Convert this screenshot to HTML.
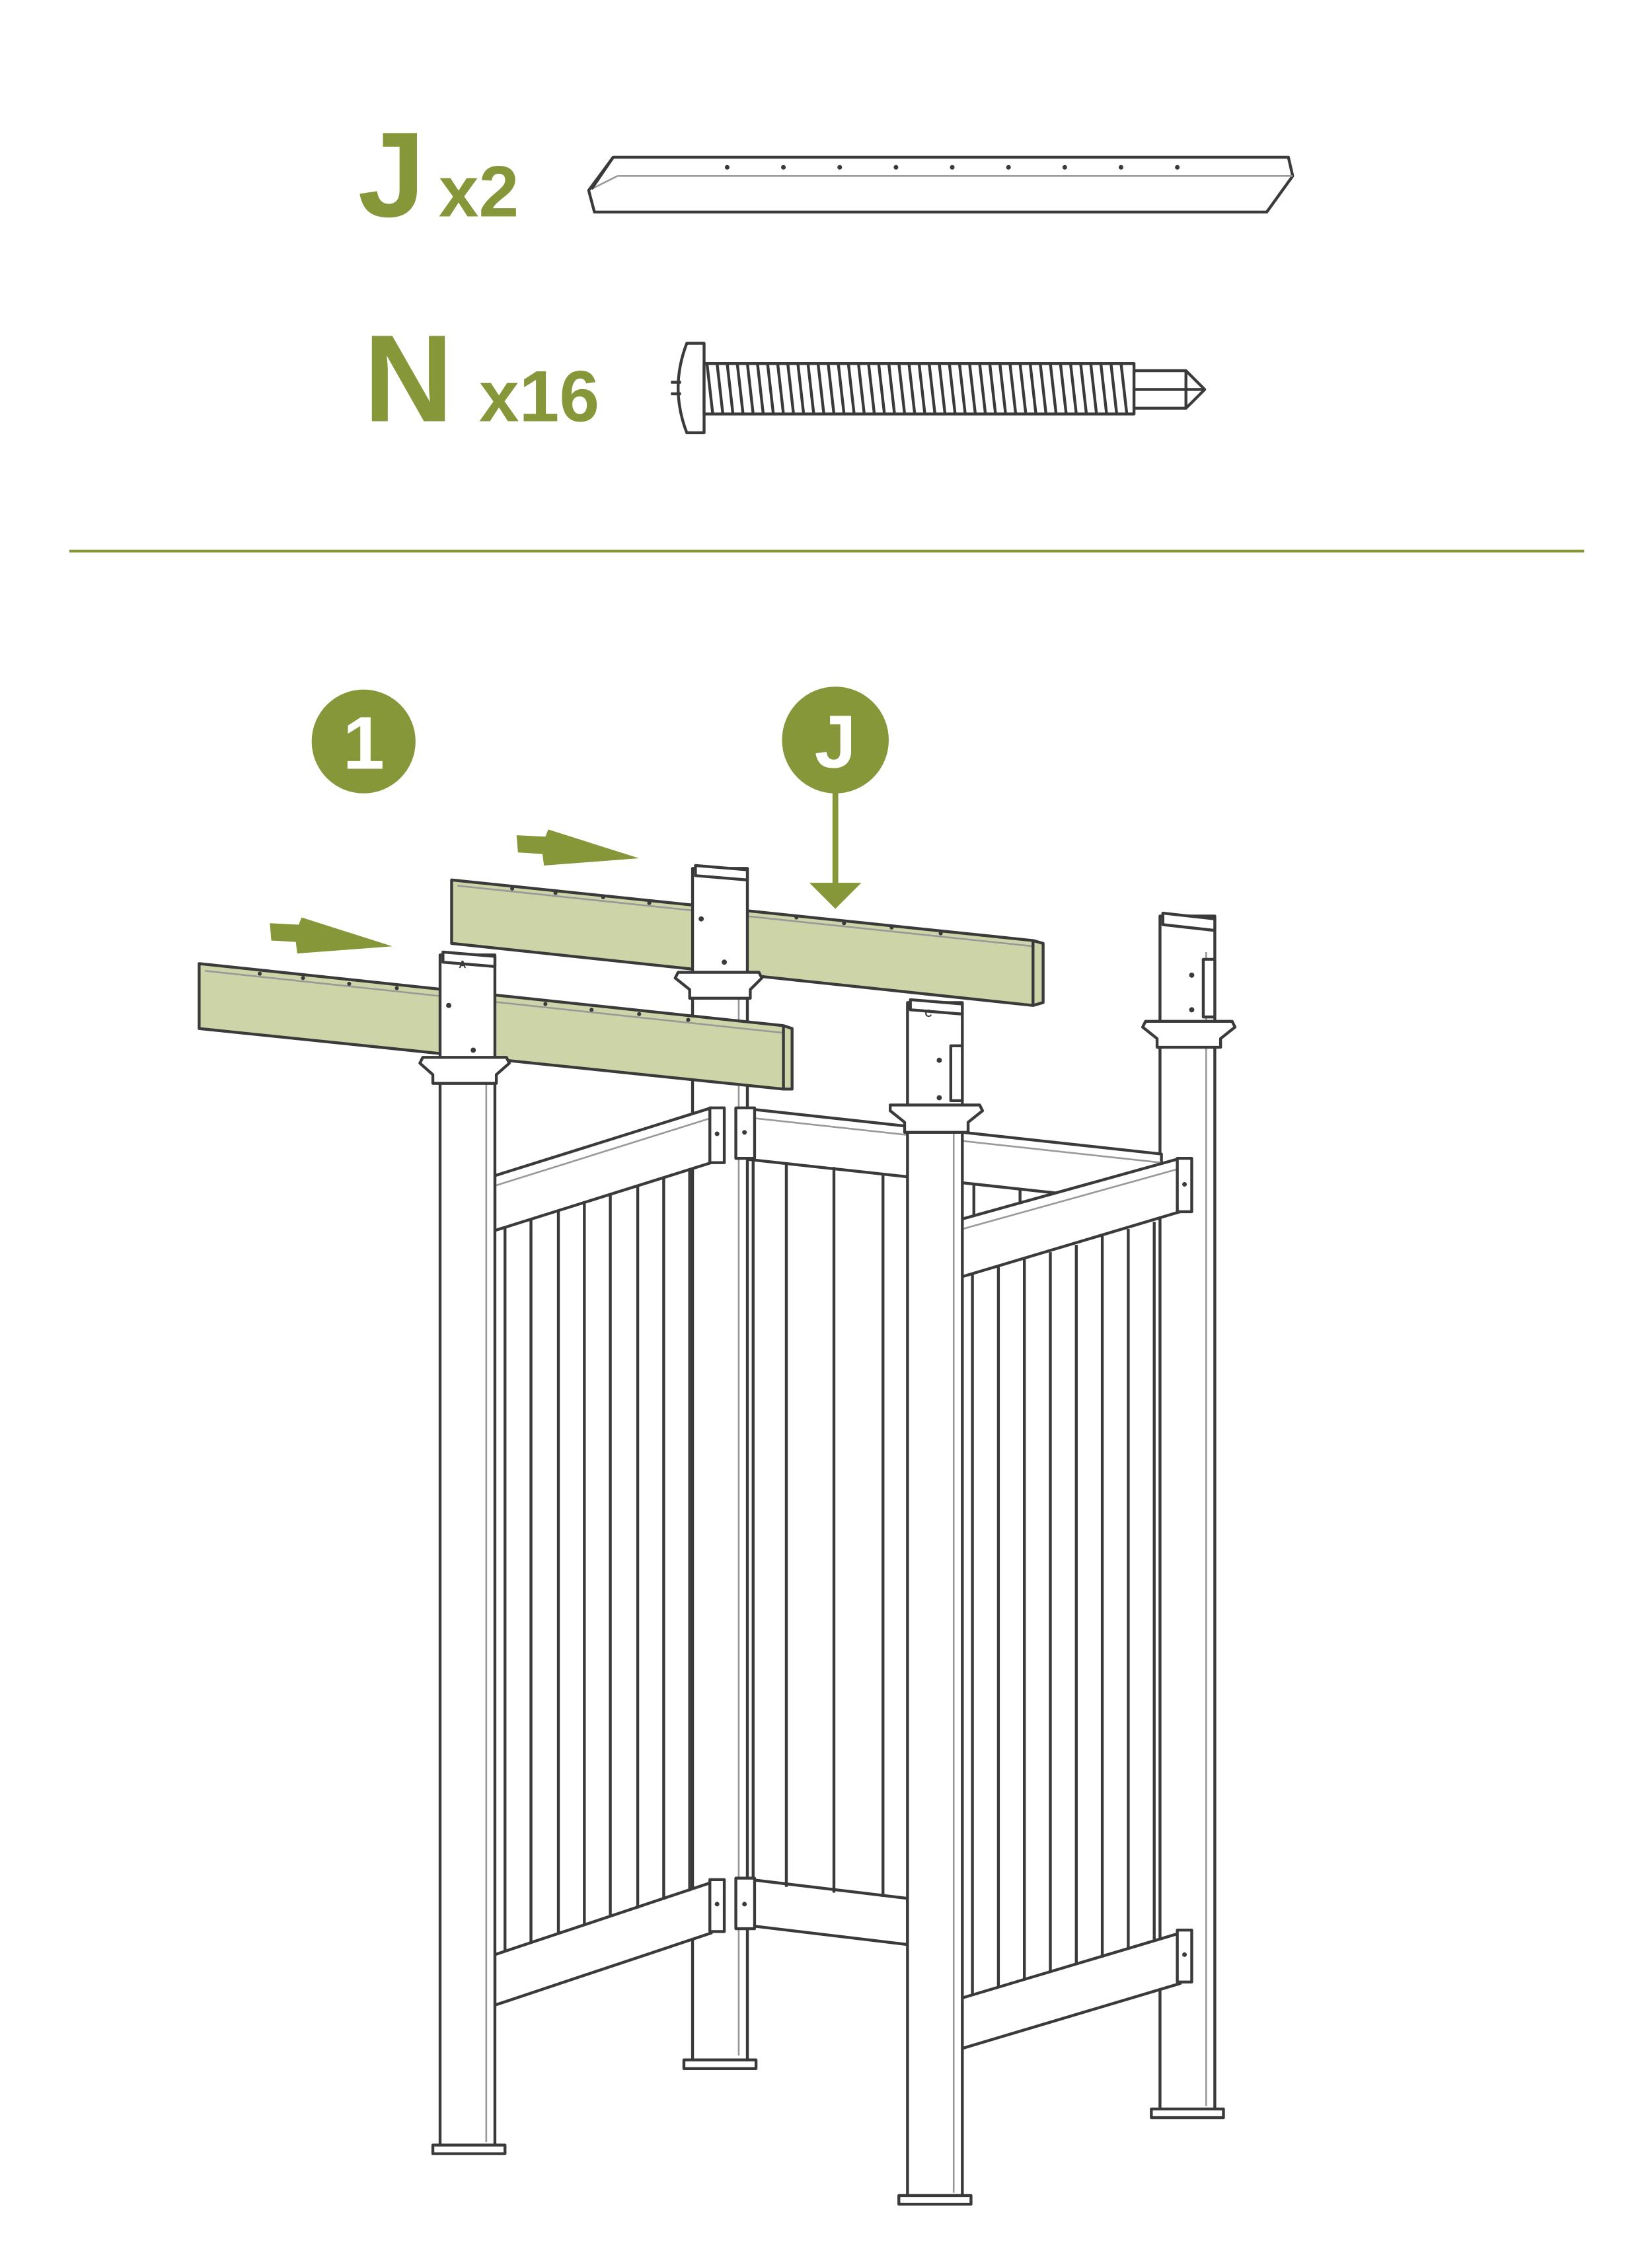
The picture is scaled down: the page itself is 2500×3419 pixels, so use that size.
<!DOCTYPE html>
<html><head><meta charset="utf-8"><style>
html,body{margin:0;padding:0;background:#fff;}
svg{display:block;}
</style></head><body>
<svg width="2500" height="3419" viewBox="0 0 1145 1566" xmlns="http://www.w3.org/2000/svg" font-family="Liberation Sans, sans-serif">
<defs>
<style>
.o{fill:none;stroke:#3a3a3a;stroke-width:2;stroke-linejoin:round}
.w{fill:#fff;stroke:#3a3a3a;stroke-width:2;stroke-linejoin:round}
.g{fill:#cdd5a8;stroke:#3a3a3a;stroke-width:2;stroke-linejoin:round}
.t{fill:none;stroke:#999;stroke-width:1.2}
.s{stroke:#3a3a3a;stroke-width:2}
</style>
</defs>
<!-- Parts list -->
<text x="248" y="150" font-size="84" font-weight="bold" fill="#86973a">J</text>
<text x="304" y="150" font-size="50" font-weight="bold" fill="#86973a">x2</text>
<polygon class="w" points="425,109 893,109 896,122 878,147 412,147 408,132"/>
<line class="t" x1="410" y1="131" x2="428" y2="122"/><line class="t" x1="428" y1="122" x2="896" y2="122"/>
<line class="o" x1="425" y1="109" x2="410" y2="131"/>
<g fill="#3a3a3a"><circle cx="504" cy="116" r="1.6"/><circle cx="543" cy="116" r="1.6"/><circle cx="582" cy="116" r="1.6"/><circle cx="621" cy="116" r="1.6"/><circle cx="660" cy="116" r="1.6"/><circle cx="699" cy="116" r="1.6"/><circle cx="738" cy="116" r="1.6"/><circle cx="777" cy="116" r="1.6"/><circle cx="816" cy="116" r="1.6"/></g>

<text x="252" y="292" font-size="86" font-weight="bold" fill="#86973a">N</text>
<text x="332" y="292" font-size="50" font-weight="bold" fill="#86973a">x16</text>
<path class="w" d="M476,238 h12 v62 h-12 q-12,-31 0,-62z"/>
<line class="o" x1="465" y1="265" x2="472" y2="265"/><line class="o" x1="465" y1="273" x2="472" y2="273"/>
<rect class="w" x="488" y="252" width="298" height="35"/>
<path class="o" d="M490,252 l4,35 M497,252 l4,35 M504,252 l4,35 M511,252 l4,35 M518,252 l4,35 M525,252 l4,35 M532,252 l4,35 M539,252 l4,35 M546,252 l4,35 M553,252 l4,35 M560,252 l4,35 M567,252 l4,35 M574,252 l4,35 M581,252 l4,35 M588,252 l4,35 M595,252 l4,35 M602,252 l4,35 M609,252 l4,35 M616,252 l4,35 M623,252 l4,35 M630,252 l4,35 M637,252 l4,35 M644,252 l4,35 M651,252 l4,35 M658,252 l4,35 M665,252 l4,35 M672,252 l4,35 M679,252 l4,35 M686,252 l4,35 M693,252 l4,35 M700,252 l4,35 M707,252 l4,35 M714,252 l4,35 M721,252 l4,35 M728,252 l4,35 M735,252 l4,35 M742,252 l4,35 M749,252 l4,35 M756,252 l4,35 M763,252 l4,35 M770,252 l4,35 M777,252 l4,35" stroke-width="1.6"/>
<polygon class="w" points="786,257 822,257 835,270 822,283 786,283"/>
<line class="o" x1="786" y1="270" x2="835" y2="270"/><line class="o" x1="822" y1="257" x2="822" y2="283"/>

<line x1="48" y1="382" x2="1098" y2="382" stroke="#86973a" stroke-width="2"/>

<!-- badges -->
<circle cx="252" cy="514" r="36" fill="#86973a"/>
<text x="252" y="533" font-size="52" font-weight="bold" fill="#fff" text-anchor="middle">1</text>
<circle cx="579" cy="513" r="37" fill="#86973a"/>
<text x="579" y="532" font-size="52" font-weight="bold" fill="#fff" text-anchor="middle">J</text>
<line x1="579" y1="545" x2="579" y2="614" stroke="#86973a" stroke-width="4"/>
<polygon points="561,612 597,612 579,630" fill="#86973a"/>
<polygon points="358,579 378,580 380,575 443,595 377,600 376,592 359,591" fill="#86973a"/>
<polygon points="187,640 207,641 209,636 272,656 206,661 205,653 188,652" fill="#86973a"/>

<!-- back beam -->
<polygon class="g" points="313,610 716,652 723,654 723,695 716,697 313,654 313,610"/>
<line class="t" x1="317" y1="614" x2="716" y2="656"/><line class="o" x1="716" y1="652" x2="716" y2="697"/>
<g fill="#3a3a3a"><circle cx="355" cy="616" r="1.4"/><circle cx="385" cy="619" r="1.4"/><circle cx="418" cy="622" r="1.4"/><circle cx="450" cy="626" r="1.4"/><circle cx="552" cy="636" r="1.4"/><circle cx="585" cy="640" r="1.4"/><circle cx="618" cy="643" r="1.4"/><circle cx="652" cy="647" r="1.4"/></g>

<!-- post D (back right) -->
<rect class="w" x="804" y="635" width="38" height="830"/>
<line class="t" x1="836" y1="660" x2="836" y2="1460"/>
<polygon class="w" points="806,633 842,637 842,645 806,641"/>
<path class="w" d="M794,708 h60 l2,4 l-10,8 v6 h-44 v-6 l-10,-8z"/>
<rect class="w" x="834" y="665" width="8" height="40"/>
<circle cx="826" cy="676" r="1.8" fill="#3a3a3a"/><circle cx="826" cy="700" r="1.8" fill="#3a3a3a"/>
<polygon class="w" points="798,1462 848,1462 848,1468 798,1468"/>

<!-- back panel -->
<polygon class="w" points="512,768 805,800 805,835 512,803"/>
<line class="t" x1="512" y1="774" x2="805" y2="806"/>
<polygon class="w" points="512,1302 629,1316 629,1348 512,1334"/>
<g class="o"><line x1="522" y1="804" x2="522" y2="1305"/><line x1="545" y1="806" x2="545" y2="1308"/><line x1="578" y1="809" x2="578" y2="1312"/><line x1="612" y1="813" x2="612" y2="1315"/><line x1="675" y1="820" x2="675" y2="850"/><line x1="707" y1="824" x2="707" y2="840"/><line x1="740" y1="827" x2="740" y2="835"/></g>

<!-- post B -->
<rect class="w" x="480" y="602" width="38" height="828"/>
<line class="t" x1="512" y1="690" x2="512" y2="1425"/>
<polygon class="w" points="482,600 518,603 518,610 482,607"/>
<circle cx="486" cy="637" r="1.8" fill="#3a3a3a"/><circle cx="502" cy="667" r="1.8" fill="#3a3a3a"/>
<path class="w" d="M470,674 h56 l2,4 l-8,8 v6 h-42 v-6 l-10,-8z"/>
<polygon class="w" points="474,1428 524,1428 524,1434 474,1434"/>
<rect class="w" x="510" y="768" width="13" height="35"/><rect class="w" x="510" y="1302" width="13" height="35"/>
<circle cx="516" cy="785" r="1.6" fill="#3a3a3a"/><circle cx="516" cy="1320" r="1.6" fill="#3a3a3a"/>

<!-- left panel -->
<polygon class="w" points="343,815 493,768 493,806 343,853"/>
<line class="t" x1="343" y1="822" x2="493" y2="775"/>
<polygon class="w" points="343,1355 493,1305 493,1340 343,1390"/>
<g class="o"><line x1="350" y1="851" x2="350" y2="1353"/><line x1="368" y1="845" x2="368" y2="1347"/><line x1="387" y1="839" x2="387" y2="1341"/><line x1="405" y1="834" x2="405" y2="1335"/><line x1="423" y1="828" x2="423" y2="1329"/><line x1="442" y1="822" x2="442" y2="1323"/><line x1="460" y1="816" x2="460" y2="1317"/><line x1="478" y1="811" x2="478" y2="1311"/></g>
<rect class="w" x="492" y="768" width="10" height="38"/><rect class="w" x="492" y="1303" width="10" height="36"/>
<circle cx="497" cy="786" r="1.6" fill="#3a3a3a"/><circle cx="497" cy="1320" r="1.6" fill="#3a3a3a"/>

<!-- front beam -->
<polygon class="g" points="138,668 543,711 549,713 549,755 543,755 138,713"/>
<line class="t" x1="142" y1="673" x2="543" y2="716"/><line class="o" x1="543" y1="711" x2="543" y2="755"/>
<g fill="#3a3a3a"><circle cx="180" cy="675" r="1.4"/><circle cx="210" cy="678" r="1.4"/><circle cx="242" cy="682" r="1.4"/><circle cx="275" cy="685" r="1.4"/><circle cx="378" cy="696" r="1.4"/><circle cx="410" cy="700" r="1.4"/><circle cx="443" cy="703" r="1.4"/><circle cx="477" cy="707" r="1.4"/></g>

<!-- post A -->
<rect class="w" x="305" y="662" width="38" height="828"/>
<line class="t" x1="337" y1="750" x2="337" y2="1485"/>
<polygon class="w" points="307,660 343,663 343,670 307,667"/>
<text x="318" y="671" font-size="7" font-weight="bold" fill="#3a3a3a">A</text>
<circle cx="311" cy="697" r="1.8" fill="#3a3a3a"/><circle cx="328" cy="728" r="1.8" fill="#3a3a3a"/>
<path class="w" d="M293,733 h58 l2,4 l-9,8 v6 h-44 v-6 l-9,-8z"/>
<polygon class="w" points="300,1487 350,1487 350,1493 300,1493"/>

<!-- right panel -->
<polygon class="w" points="667,845 818,803 818,840 667,885"/>
<line class="t" x1="667" y1="852" x2="818" y2="810"/>
<polygon class="w" points="667,1385 818,1340 818,1375 667,1420"/>
<g class="o"><line x1="674" y1="883" x2="674" y2="1383"/><line x1="692" y1="878" x2="692" y2="1378"/><line x1="710" y1="873" x2="710" y2="1373"/><line x1="728" y1="868" x2="728" y2="1367"/><line x1="746" y1="863" x2="746" y2="1362"/><line x1="764" y1="857" x2="764" y2="1357"/><line x1="782" y1="852" x2="782" y2="1351"/><line x1="800" y1="847" x2="800" y2="1346"/></g>
<rect class="w" x="816" y="803" width="10" height="37"/><rect class="w" x="816" y="1338" width="10" height="36"/>
<circle cx="821" cy="821" r="1.6" fill="#3a3a3a"/><circle cx="821" cy="1355" r="1.6" fill="#3a3a3a"/>

<!-- post C -->
<rect class="w" x="629" y="695" width="38" height="830"/>
<line class="t" x1="661" y1="785" x2="661" y2="1520"/>
<polygon class="w" points="631,693 667,696 667,703 631,700"/>
<text x="641" y="705" font-size="7" font-weight="bold" fill="#3a3a3a">C</text>
<rect class="w" x="659" y="725" width="8" height="38"/>
<circle cx="651" cy="735" r="1.8" fill="#3a3a3a"/><circle cx="651" cy="761" r="1.8" fill="#3a3a3a"/>
<path class="w" d="M617,766 h62 l2,4 l-10,8 v7 h-44 v-7 l-10,-8z"/>
<polygon class="w" points="623,1522 673,1522 673,1528 623,1528"/>
</svg>
</body></html>
